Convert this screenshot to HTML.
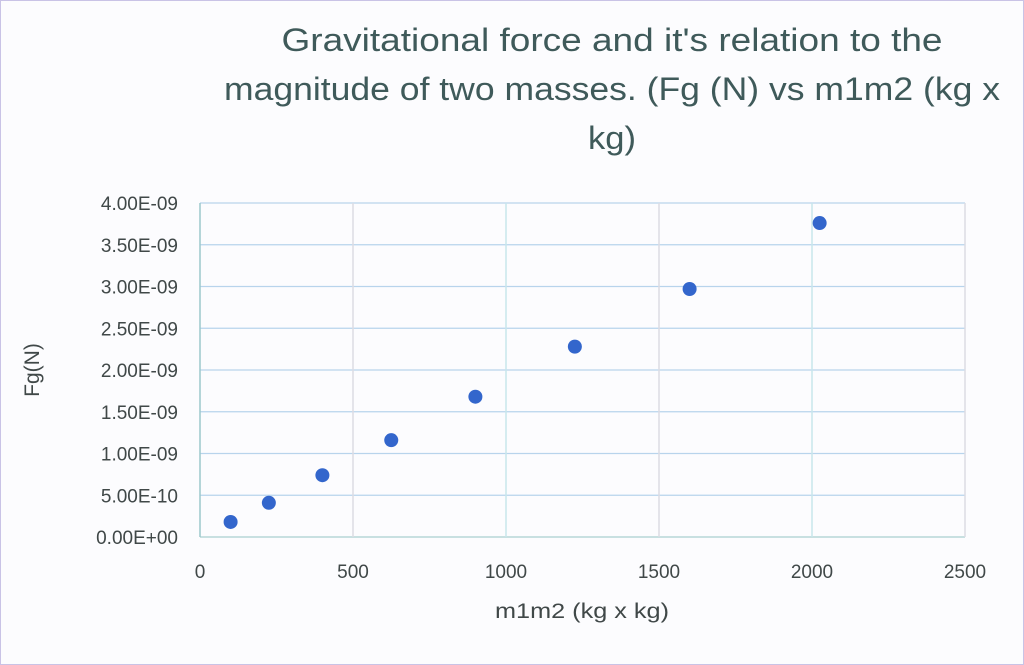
<!DOCTYPE html>
<html><head><meta charset="utf-8"><style>
html,body{margin:0;padding:0;background:#fff;}
svg{display:block;font-family:"Liberation Sans","DejaVu Sans",sans-serif;}
</style></head><body>
<svg id="chart" width="1024" height="665" viewBox="0 0 1024 665">
<rect x="0.5" y="0.5" width="1023" height="664" fill="#fcfcfe" stroke="#c9c3e6"/>
<g fill="#3f5a5a" font-size="32" text-anchor="middle">
<text x="612" y="51" textLength="661" lengthAdjust="spacingAndGlyphs">Gravitational force and it's relation to the</text>
<text x="612" y="100" textLength="776" lengthAdjust="spacingAndGlyphs">magnitude of two masses. (Fg (N) vs m1m2 (kg x</text>
<text x="612" y="149" textLength="48" lengthAdjust="spacingAndGlyphs">kg)</text>
</g>
<g id="grid"></g>
<g id="yticks" fill="#404848" font-size="19" text-anchor="end"></g>
<g id="xticks" fill="#404848" font-size="19" text-anchor="middle"></g>
<g id="points"></g>
<text x="582" y="618" font-size="21" fill="#404848" text-anchor="middle" textLength="174" lengthAdjust="spacingAndGlyphs">m1m2 (kg x kg)</text>
<text transform="translate(39,370) rotate(-90)" font-size="21" fill="#404848" text-anchor="middle">Fg(N)</text>
</svg>
<script>
const xValues=[100,225,400,625,900,1225,1600,2025];
const yValues=[0.18e-9,0.41e-9,0.74e-9,1.16e-9,1.68e-9,2.28e-9,2.97e-9,3.76e-9];
const xTicks=[0,500,1000,1500,2000,2500];
const yTicks=[0,0.5e-9,1e-9,1.5e-9,2e-9,2.5e-9,3e-9,3.5e-9,4e-9];
const yTickLabels=["0.00E+00","5.00E-10","1.00E-09","1.50E-09","2.00E-09","2.50E-09","3.00E-09","3.50E-09","4.00E-09"];
const X0=200,X1=965,Y0=537,Y1=203;
const xs=v=>X0+(v-0)/(2500-0)*(X1-X0);
const ys=v=>Y0-(v/4e-9)*(Y0-Y1);
const NS="http://www.w3.org/2000/svg";
const grid=document.getElementById('grid'),yt=document.getElementById('yticks'),xt=document.getElementById('xticks'),pts=document.getElementById('points');
yTicks.forEach((v,i)=>{
 const l=document.createElementNS(NS,'line');
 
 
 l.setAttribute('x1',X0);l.setAttribute('x2',X1);l.setAttribute('y1',ys(v));l.setAttribute('y2',ys(v));
 l.setAttribute('stroke',i==0?'#a8d0d0':'#b8d4ec');l.setAttribute('stroke-width','1.3');
 grid.appendChild(l);
 const t=document.createElementNS(NS,'text');
 
 
 t.setAttribute('x',178);t.setAttribute('y',ys(v)+7);t.textContent=yTickLabels[i];
 yt.appendChild(t);
});
xTicks.forEach((v,i)=>{
 const l=document.createElementNS(NS,'line');
 
 
 l.setAttribute('x1',xs(v));l.setAttribute('x2',xs(v));l.setAttribute('y1',Y1);l.setAttribute('y2',Y0);
 l.setAttribute('stroke',i==0?'#9cc8cc':(i%2?'#dcdce4':'#c8e6ec'));l.setAttribute('stroke-width','1.5');
 grid.appendChild(l);
 const t=document.createElementNS(NS,'text');
 
 
 t.setAttribute('x',xs(v));t.setAttribute('y',578);t.textContent=v;
 xt.appendChild(t);
});
xValues.forEach((v,i)=>{
 const c=document.createElementNS(NS,'circle');
 
 
 c.setAttribute('cx',xs(v));c.setAttribute('cy',ys(yValues[i]));c.setAttribute('r',7);
 c.setAttribute('fill','#3366cc');
 pts.appendChild(c);
});
</script>
</body></html>
